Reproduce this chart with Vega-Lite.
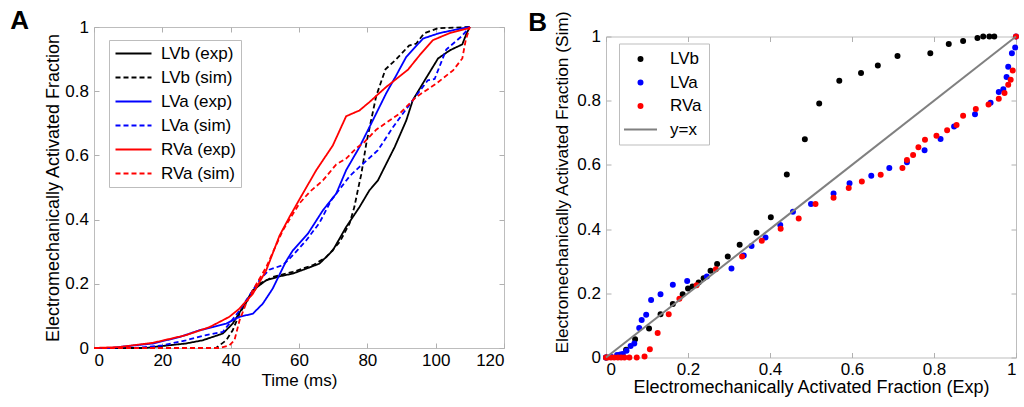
{
  "$schema": "https://vega.github.io/schema/vega-lite/v6.json",
  "background": "white",
  "padding": {"left": 9, "top": 7, "right": 0, "bottom": 0},
  "spacing": 22,
  "resolve": {"legend": {"color": "independent", "strokeDash": "independent", "fill": "independent", "stroke": "independent", "shape": "independent"}, "scale": {"color": "independent", "strokeDash": "independent", "fill": "independent", "stroke": "independent", "shape": "independent"}},
  "config": {
    "font": "Liberation Sans",
    "view": {"stroke": "#bdbdbd", "strokeWidth": 1},
    "axis": {"domain": false, "grid": false, "tickColor": "#b0b0b0", "tickSize": -5, "labelFontSize": 17, "labelColor": "black", "titleFontSize": 17, "titleFontWeight": "normal", "titleColor": "black", "labelFont": "Liberation Sans", "titleFont": "Liberation Sans"},
    "legend": {"labelFont": "Liberation Sans", "labelFontSize": 17, "labelColor": "black", "strokeColor": "#bdbdbd", "fillColor": "white", "padding": 7, "rowPadding": 6}
  },
  "hconcat": [
    {
      "width": 410,
      "height": 321,
      "title": {"text": "A", "anchor": "start", "frame": "bounds", "fontSize": 26, "fontWeight": "bold", "font": "Liberation Sans", "dx": -34, "offset": -15.5},
      "data": {"values": [
        {"t": 0, "f": 0, "s": "LVb (exp)"}, {"t": 15, "f": 0, "s": "LVb (exp)"}, {"t": 17.2, "f": 0.003, "s": "LVb (exp)"}, {"t": 26.9, "f": 0.014, "s": "LVb (exp)"}, {"t": 31.8, "f": 0.024, "s": "LVb (exp)"}, {"t": 37.7, "f": 0.045, "s": "LVb (exp)"}, {"t": 40.6, "f": 0.076, "s": "LVb (exp)"}, {"t": 43.6, "f": 0.128, "s": "LVb (exp)"}, {"t": 46.5, "f": 0.18, "s": "LVb (exp)"}, {"t": 50.4, "f": 0.211, "s": "LVb (exp)"}, {"t": 54.3, "f": 0.223, "s": "LVb (exp)"}, {"t": 58.2, "f": 0.232, "s": "LVb (exp)"}, {"t": 62.1, "f": 0.247, "s": "LVb (exp)"}, {"t": 66, "f": 0.263, "s": "LVb (exp)"}, {"t": 69.9, "f": 0.304, "s": "LVb (exp)"}, {"t": 73.8, "f": 0.377, "s": "LVb (exp)"}, {"t": 77.7, "f": 0.439, "s": "LVb (exp)"}, {"t": 80.6, "f": 0.491, "s": "LVb (exp)"}, {"t": 83.1, "f": 0.522, "s": "LVb (exp)"}, {"t": 84.6, "f": 0.554, "s": "LVb (exp)"}, {"t": 88, "f": 0.626, "s": "LVb (exp)"}, {"t": 91.4, "f": 0.709, "s": "LVb (exp)"}, {"t": 93.3, "f": 0.772, "s": "LVb (exp)"}, {"t": 96.8, "f": 0.834, "s": "LVb (exp)"}, {"t": 100.7, "f": 0.902, "s": "LVb (exp)"}, {"t": 104.1, "f": 0.927, "s": "LVb (exp)"}, {"t": 107.8, "f": 0.946, "s": "LVb (exp)"}, {"t": 109, "f": 0.979, "s": "LVb (exp)"}, {"t": 110, "f": 1, "s": "LVb (exp)"},
        {"t": 0, "f": 0, "s": "LVb (sim)"}, {"t": 35.7, "f": 0, "s": "LVb (sim)"}, {"t": 36.7, "f": 0.008, "s": "LVb (sim)"}, {"t": 38.7, "f": 0.024, "s": "LVb (sim)"}, {"t": 40.6, "f": 0.055, "s": "LVb (sim)"}, {"t": 42.6, "f": 0.107, "s": "LVb (sim)"}, {"t": 45.5, "f": 0.159, "s": "LVb (sim)"}, {"t": 48.4, "f": 0.2, "s": "LVb (sim)"}, {"t": 52.3, "f": 0.221, "s": "LVb (sim)"}, {"t": 58.2, "f": 0.237, "s": "LVb (sim)"}, {"t": 64.1, "f": 0.258, "s": "LVb (sim)"}, {"t": 68, "f": 0.283, "s": "LVb (sim)"}, {"t": 71.9, "f": 0.33, "s": "LVb (sim)"}, {"t": 74.8, "f": 0.388, "s": "LVb (sim)"}, {"t": 76.2, "f": 0.439, "s": "LVb (sim)"}, {"t": 77.2, "f": 0.491, "s": "LVb (sim)"}, {"t": 78.2, "f": 0.54, "s": "LVb (sim)"}, {"t": 79.7, "f": 0.637, "s": "LVb (sim)"}, {"t": 81.1, "f": 0.709, "s": "LVb (sim)"}, {"t": 82.6, "f": 0.785, "s": "LVb (sim)"}, {"t": 85.3, "f": 0.868, "s": "LVb (sim)"}, {"t": 88.5, "f": 0.9, "s": "LVb (sim)"}, {"t": 92.2, "f": 0.942, "s": "LVb (sim)"}, {"t": 94.3, "f": 0.948, "s": "LVb (sim)"}, {"t": 96.6, "f": 0.98, "s": "LVb (sim)"}, {"t": 100.6, "f": 0.996, "s": "LVb (sim)"}, {"t": 110, "f": 1, "s": "LVb (sim)"},
        {"t": 0, "f": 0, "s": "LVa (exp)"}, {"t": 5, "f": 0, "s": "LVa (exp)"}, {"t": 7.3, "f": 0.003, "s": "LVa (exp)"}, {"t": 17.2, "f": 0.014, "s": "LVa (exp)"}, {"t": 25, "f": 0.034, "s": "LVa (exp)"}, {"t": 30.8, "f": 0.055, "s": "LVa (exp)"}, {"t": 34.8, "f": 0.065, "s": "LVa (exp)"}, {"t": 38.7, "f": 0.076, "s": "LVa (exp)"}, {"t": 42.6, "f": 0.097, "s": "LVa (exp)"}, {"t": 46.5, "f": 0.107, "s": "LVa (exp)"}, {"t": 49.4, "f": 0.138, "s": "LVa (exp)"}, {"t": 52.3, "f": 0.185, "s": "LVa (exp)"}, {"t": 56.2, "f": 0.27, "s": "LVa (exp)"}, {"t": 58.2, "f": 0.304, "s": "LVa (exp)"}, {"t": 62.6, "f": 0.356, "s": "LVa (exp)"}, {"t": 67, "f": 0.429, "s": "LVa (exp)"}, {"t": 70.9, "f": 0.481, "s": "LVa (exp)"}, {"t": 73.8, "f": 0.554, "s": "LVa (exp)"}, {"t": 77.7, "f": 0.626, "s": "LVa (exp)"}, {"t": 81.6, "f": 0.709, "s": "LVa (exp)"}, {"t": 85.5, "f": 0.793, "s": "LVa (exp)"}, {"t": 88.5, "f": 0.85, "s": "LVa (exp)"}, {"t": 91.4, "f": 0.907, "s": "LVa (exp)"}, {"t": 96.3, "f": 0.964, "s": "LVa (exp)"}, {"t": 101.1, "f": 0.981, "s": "LVa (exp)"}, {"t": 106, "f": 0.992, "s": "LVa (exp)"}, {"t": 110, "f": 1, "s": "LVa (exp)"},
        {"t": 0, "f": 0, "s": "LVa (sim)"}, {"t": 12, "f": 0, "s": "LVa (sim)"}, {"t": 20, "f": 0.008, "s": "LVa (sim)"}, {"t": 26.9, "f": 0.024, "s": "LVa (sim)"}, {"t": 32.8, "f": 0.04, "s": "LVa (sim)"}, {"t": 37.7, "f": 0.05, "s": "LVa (sim)"}, {"t": 39.6, "f": 0.076, "s": "LVa (sim)"}, {"t": 42.6, "f": 0.117, "s": "LVa (sim)"}, {"t": 45.5, "f": 0.164, "s": "LVa (sim)"}, {"t": 48.4, "f": 0.211, "s": "LVa (sim)"}, {"t": 51.3, "f": 0.244, "s": "LVa (sim)"}, {"t": 55.3, "f": 0.258, "s": "LVa (sim)"}, {"t": 58.2, "f": 0.289, "s": "LVa (sim)"}, {"t": 62.1, "f": 0.335, "s": "LVa (sim)"}, {"t": 66, "f": 0.39, "s": "LVa (sim)"}, {"t": 69.4, "f": 0.46, "s": "LVa (sim)"}, {"t": 74.8, "f": 0.535, "s": "LVa (sim)"}, {"t": 77.7, "f": 0.564, "s": "LVa (sim)"}, {"t": 83.1, "f": 0.616, "s": "LVa (sim)"}, {"t": 87.5, "f": 0.688, "s": "LVa (sim)"}, {"t": 93.3, "f": 0.772, "s": "LVa (sim)"}, {"t": 97.7, "f": 0.834, "s": "LVa (sim)"}, {"t": 99.7, "f": 0.838, "s": "LVa (sim)"}, {"t": 103.1, "f": 0.93, "s": "LVa (sim)"}, {"t": 107.5, "f": 0.97, "s": "LVa (sim)"}, {"t": 110, "f": 1, "s": "LVa (sim)"},
        {"t": 0, "f": 0, "s": "RVa (exp)"}, {"t": 7.4, "f": 0.003, "s": "RVa (exp)"}, {"t": 17.2, "f": 0.016, "s": "RVa (exp)"}, {"t": 26.9, "f": 0.04, "s": "RVa (exp)"}, {"t": 33.8, "f": 0.065, "s": "RVa (exp)"}, {"t": 39.6, "f": 0.097, "s": "RVa (exp)"}, {"t": 42.6, "f": 0.123, "s": "RVa (exp)"}, {"t": 46.5, "f": 0.169, "s": "RVa (exp)"}, {"t": 50.4, "f": 0.242, "s": "RVa (exp)"}, {"t": 54.3, "f": 0.35, "s": "RVa (exp)"}, {"t": 57.2, "f": 0.408, "s": "RVa (exp)"}, {"t": 61.1, "f": 0.481, "s": "RVa (exp)"}, {"t": 65, "f": 0.553, "s": "RVa (exp)"}, {"t": 69.9, "f": 0.631, "s": "RVa (exp)"}, {"t": 73.8, "f": 0.722, "s": "RVa (exp)"}, {"t": 77.7, "f": 0.74, "s": "RVa (exp)"}, {"t": 80.6, "f": 0.766, "s": "RVa (exp)"}, {"t": 85.5, "f": 0.813, "s": "RVa (exp)"}, {"t": 91.9, "f": 0.867, "s": "RVa (exp)"}, {"t": 95.3, "f": 0.912, "s": "RVa (exp)"}, {"t": 99.2, "f": 0.959, "s": "RVa (exp)"}, {"t": 104.1, "f": 0.981, "s": "RVa (exp)"}, {"t": 109.5, "f": 0.996, "s": "RVa (exp)"}, {"t": 110, "f": 1, "s": "RVa (exp)"},
        {"t": 0, "f": 0, "s": "RVa (sim)"}, {"t": 36.6, "f": 0, "s": "RVa (sim)"}, {"t": 39.6, "f": 0.008, "s": "RVa (sim)"}, {"t": 41.1, "f": 0.024, "s": "RVa (sim)"}, {"t": 42.6, "f": 0.086, "s": "RVa (sim)"}, {"t": 44.5, "f": 0.138, "s": "RVa (sim)"}, {"t": 46.5, "f": 0.18, "s": "RVa (sim)"}, {"t": 50.4, "f": 0.252, "s": "RVa (sim)"}, {"t": 55.3, "f": 0.367, "s": "RVa (sim)"}, {"t": 60.1, "f": 0.45, "s": "RVa (sim)"}, {"t": 63.1, "f": 0.486, "s": "RVa (sim)"}, {"t": 67, "f": 0.522, "s": "RVa (sim)"}, {"t": 70.9, "f": 0.572, "s": "RVa (sim)"}, {"t": 73.8, "f": 0.59, "s": "RVa (sim)"}, {"t": 76.7, "f": 0.622, "s": "RVa (sim)"}, {"t": 79, "f": 0.64, "s": "RVa (sim)"}, {"t": 82.6, "f": 0.68, "s": "RVa (sim)"}, {"t": 89.4, "f": 0.73, "s": "RVa (sim)"}, {"t": 94.3, "f": 0.782, "s": "RVa (sim)"}, {"t": 100.2, "f": 0.824, "s": "RVa (sim)"}, {"t": 105.1, "f": 0.865, "s": "RVa (sim)"}, {"t": 107.8, "f": 0.902, "s": "RVa (sim)"}, {"t": 108.8, "f": 0.959, "s": "RVa (sim)"}, {"t": 110, "f": 1, "s": "RVa (sim)"}
      ]},
      "layer": [
        {
          "mark": {"type": "line", "strokeWidth": 1.8},
          "encoding": {
            "x": {"field": "t", "type": "quantitative", "scale": {"domain": [0, 120], "nice": false}, "axis": {"values": [0, 20, 40, 60, 80, 100, 120], "title": "Time (ms)", "labelPadding": 9, "titlePadding": 4}},
            "y": {"field": "f", "type": "quantitative", "scale": {"domain": [0, 1], "nice": false}, "axis": {"values": [0, 0.2, 0.4, 0.6, 0.8, 1], "format": "~g", "title": "Electromechanically Activated Fraction", "titleFontSize": 18, "labelPadding": 10.5, "titlePadding": 2.5}},
            "color": {"field": "s", "type": "nominal", "scale": {"domain": ["LVb (exp)", "LVb (sim)", "LVa (exp)", "LVa (sim)", "RVa (exp)", "RVa (sim)"], "range": ["#000000", "#000000", "#0000ff", "#0000ff", "#ff0000", "#ff0000"]}, "legend": {"title": null, "orient": "none", "legendX": 15, "legendY": 13, "padding": 5, "symbolType": "M-3.6,0H3.6", "symbolSize": 100, "symbolStrokeWidth": 2, "symbolOffset": 11, "labelOffset": 19}},
            "strokeDash": {"field": "s", "type": "nominal", "scale": {"domain": ["LVb (exp)", "LVb (sim)", "LVa (exp)", "LVa (sim)", "RVa (exp)", "RVa (sim)"], "range": [[1, 0], [5, 3], [1, 0], [5, 3], [1, 0], [5, 3]]}, "legend": {"title": null, "orient": "none", "legendX": 15, "legendY": 13, "padding": 5, "symbolType": "M-3.6,0H3.6", "symbolSize": 100, "symbolStrokeWidth": 2, "symbolOffset": 11, "labelOffset": 19}}
          }
        },
        {
          "mark": {"type": "line", "opacity": 0},
          "encoding": {
            "x": {"field": "t", "type": "quantitative", "axis": {"orient": "top", "values": [0, 20, 40, 60, 80, 100, 120], "labels": false, "title": null}},
            "y": {"field": "f", "type": "quantitative", "axis": {"orient": "right", "values": [0, 0.2, 0.4, 0.6, 0.8, 1], "labels": false, "title": null}}
          }
        }
      ],
      "resolve": {"axis": {"x": "independent", "y": "independent"}}
    },
    {
      "spacing": -22.5,
      "resolve": {"legend": {"fill": "independent", "stroke": "independent", "shape": "independent"}, "scale": {"fill": "independent", "stroke": "independent", "shape": "independent"}},
      "vconcat": [
        {
          "width": 1,
          "height": 1,
          "view": {"stroke": null},
          "data": {"values": [{"k": 0}]},
          "mark": {"type": "point", "opacity": 0},
          "encoding": {}
        },
        {
          "width": 410,
          "height": 321,
          "title": {"text": "B", "anchor": "start", "frame": "bounds", "fontSize": 26, "fontWeight": "bold", "font": "Liberation Sans", "dx": -25, "offset": -25},
          "layer": [
            {
              "data": {"values": [
                {"x": 0, "y": 0, "s": "LVb"}, {"x": 0.049, "y": 0.024, "s": "LVb"}, {"x": 0.071, "y": 0.057, "s": "LVb"}, {"x": 0.105, "y": 0.09, "s": "LVb"}, {"x": 0.133, "y": 0.135, "s": "LVb"}, {"x": 0.163, "y": 0.167, "s": "LVb"}, {"x": 0.187, "y": 0.197, "s": "LVb"}, {"x": 0.2, "y": 0.215, "s": "LVb"}, {"x": 0.211, "y": 0.221, "s": "LVb"}, {"x": 0.226, "y": 0.234, "s": "LVb"}, {"x": 0.238, "y": 0.247, "s": "LVb"}, {"x": 0.255, "y": 0.27, "s": "LVb"}, {"x": 0.271, "y": 0.291, "s": "LVb"}, {"x": 0.297, "y": 0.315, "s": "LVb"}, {"x": 0.326, "y": 0.351, "s": "LVb"}, {"x": 0.367, "y": 0.389, "s": "LVb"}, {"x": 0.402, "y": 0.437, "s": "LVb"}, {"x": 0.441, "y": 0.57, "s": "LVb"}, {"x": 0.485, "y": 0.68, "s": "LVb"}, {"x": 0.52, "y": 0.791, "s": "LVb"}, {"x": 0.569, "y": 0.862, "s": "LVb"}, {"x": 0.622, "y": 0.886, "s": "LVb"}, {"x": 0.663, "y": 0.91, "s": "LVb"}, {"x": 0.711, "y": 0.939, "s": "LVb"}, {"x": 0.791, "y": 0.948, "s": "LVb"}, {"x": 0.836, "y": 0.977, "s": "LVb"}, {"x": 0.871, "y": 0.986, "s": "LVb"}, {"x": 0.906, "y": 0.995, "s": "LVb"}, {"x": 0.92, "y": 1, "s": "LVb"}, {"x": 0.935, "y": 1, "s": "LVb"}, {"x": 0.947, "y": 1, "s": "LVb"},
                {"x": 0, "y": 0, "s": "LVa"}, {"x": 0.012, "y": 0.002, "s": "LVa"}, {"x": 0.027, "y": 0.008, "s": "LVa"}, {"x": 0.035, "y": 0.009, "s": "LVa"}, {"x": 0.041, "y": 0.011, "s": "LVa"}, {"x": 0.05, "y": 0.021, "s": "LVa"}, {"x": 0.06, "y": 0.036, "s": "LVa"}, {"x": 0.069, "y": 0.044, "s": "LVa"}, {"x": 0.081, "y": 0.092, "s": "LVa"}, {"x": 0.087, "y": 0.117, "s": "LVa"}, {"x": 0.098, "y": 0.133, "s": "LVa"}, {"x": 0.11, "y": 0.179, "s": "LVa"}, {"x": 0.133, "y": 0.197, "s": "LVa"}, {"x": 0.163, "y": 0.227, "s": "LVa"}, {"x": 0.198, "y": 0.238, "s": "LVa"}, {"x": 0.246, "y": 0.252, "s": "LVa"}, {"x": 0.306, "y": 0.277, "s": "LVa"}, {"x": 0.336, "y": 0.318, "s": "LVa"}, {"x": 0.355, "y": 0.347, "s": "LVa"}, {"x": 0.389, "y": 0.374, "s": "LVa"}, {"x": 0.425, "y": 0.413, "s": "LVa"}, {"x": 0.456, "y": 0.454, "s": "LVa"}, {"x": 0.5, "y": 0.478, "s": "LVa"}, {"x": 0.555, "y": 0.511, "s": "LVa"}, {"x": 0.594, "y": 0.543, "s": "LVa"}, {"x": 0.647, "y": 0.566, "s": "LVa"}, {"x": 0.691, "y": 0.59, "s": "LVa"}, {"x": 0.734, "y": 0.608, "s": "LVa"}, {"x": 0.777, "y": 0.646, "s": "LVa"}, {"x": 0.816, "y": 0.681, "s": "LVa"}, {"x": 0.849, "y": 0.72, "s": "LVa"}, {"x": 0.9, "y": 0.758, "s": "LVa"}, {"x": 0.938, "y": 0.794, "s": "LVa"}, {"x": 0.958, "y": 0.827, "s": "LVa"}, {"x": 0.969, "y": 0.836, "s": "LVa"}, {"x": 0.977, "y": 0.874, "s": "LVa"}, {"x": 0.981, "y": 0.906, "s": "LVa"}, {"x": 0.99, "y": 0.948, "s": "LVa"}, {"x": 0.998, "y": 0.966, "s": "LVa"}, {"x": 1, "y": 1, "s": "LVa"},
                {"x": 0, "y": 0, "s": "RVa"}, {"x": 0.004, "y": 0, "s": "RVa"}, {"x": 0.012, "y": 0, "s": "RVa"}, {"x": 0.02, "y": 0, "s": "RVa"}, {"x": 0.029, "y": 0, "s": "RVa"}, {"x": 0.037, "y": 0, "s": "RVa"}, {"x": 0.045, "y": 0, "s": "RVa"}, {"x": 0.057, "y": 0, "s": "RVa"}, {"x": 0.075, "y": 0, "s": "RVa"}, {"x": 0.094, "y": 0.003, "s": "RVa"}, {"x": 0.107, "y": 0.026, "s": "RVa"}, {"x": 0.126, "y": 0.076, "s": "RVa"}, {"x": 0.153, "y": 0.135, "s": "RVa"}, {"x": 0.179, "y": 0.183, "s": "RVa"}, {"x": 0.221, "y": 0.225, "s": "RVa"}, {"x": 0.268, "y": 0.275, "s": "RVa"}, {"x": 0.332, "y": 0.315, "s": "RVa"}, {"x": 0.38, "y": 0.364, "s": "RVa"}, {"x": 0.426, "y": 0.401, "s": "RVa"}, {"x": 0.47, "y": 0.433, "s": "RVa"}, {"x": 0.511, "y": 0.478, "s": "RVa"}, {"x": 0.555, "y": 0.498, "s": "RVa"}, {"x": 0.592, "y": 0.528, "s": "RVa"}, {"x": 0.624, "y": 0.548, "s": "RVa"}, {"x": 0.67, "y": 0.569, "s": "RVa"}, {"x": 0.723, "y": 0.59, "s": "RVa"}, {"x": 0.734, "y": 0.615, "s": "RVa"}, {"x": 0.749, "y": 0.631, "s": "RVa"}, {"x": 0.762, "y": 0.655, "s": "RVa"}, {"x": 0.778, "y": 0.678, "s": "RVa"}, {"x": 0.806, "y": 0.691, "s": "RVa"}, {"x": 0.832, "y": 0.708, "s": "RVa"}, {"x": 0.855, "y": 0.724, "s": "RVa"}, {"x": 0.871, "y": 0.753, "s": "RVa"}, {"x": 0.902, "y": 0.774, "s": "RVa"}, {"x": 0.933, "y": 0.788, "s": "RVa"}, {"x": 0.958, "y": 0.806, "s": "RVa"}, {"x": 0.972, "y": 0.824, "s": "RVa"}, {"x": 0.981, "y": 0.85, "s": "RVa"}, {"x": 0.987, "y": 0.865, "s": "RVa"}, {"x": 0.992, "y": 0.894, "s": "RVa"}, {"x": 1, "y": 1, "s": "RVa"}
              ]},
              "mark": {"type": "point", "filled": true, "size": 16, "strokeWidth": 2, "opacity": 1},
              "encoding": {
                "x": {"field": "x", "type": "quantitative", "scale": {"domain": [0, 1], "nice": false}, "axis": {"values": [0, 0.2, 0.4, 0.6, 0.8, 1], "format": "~g", "title": "Electromechanically Activated Fraction (Exp)", "labelPadding": 9, "titlePadding": 1, "titleFontSize": 18}},
                "y": {"field": "y", "type": "quantitative", "scale": {"domain": [0, 1], "nice": false}, "axis": {"values": [0, 0.2, 0.4, 0.6, 0.8, 1], "format": "~g", "title": "Electromechanically Activated Fraction (Sim)", "titleFontSize": 17.3, "labelPadding": 10.5, "titlePadding": 5.5, "titleY": 145.5}},
                "fill": {"field": "s", "type": "nominal", "scale": {"domain": ["LVb", "LVa", "RVa", "y=x"], "range": ["#000000", "#0000ff", "#ff0000", "#808080"]}, "legend": {"title": null, "orient": "none", "legendX": 13, "legendY": 7, "symbolSize": 16, "symbolStrokeWidth": 2, "symbolOffset": 6, "labelOffset": 21, "rowPadding": 5.5}},
                "stroke": {"field": "s", "type": "nominal", "scale": {"domain": ["LVb", "LVa", "RVa", "y=x"], "range": ["#000000", "#0000ff", "#ff0000", "#808080"]}, "legend": {"title": null, "orient": "none", "legendX": 13, "legendY": 7, "symbolSize": 16, "symbolStrokeWidth": 2, "symbolOffset": 6, "labelOffset": 21, "rowPadding": 5.5}},
                "shape": {"field": "s", "type": "nominal", "scale": {"domain": ["LVb", "LVa", "RVa", "y=x"], "range": ["circle", "circle", "circle", "M-8.25,0H8.25"]}, "legend": {"title": null, "orient": "none", "legendX": 13, "legendY": 7, "symbolSize": 16, "symbolStrokeWidth": 2, "symbolOffset": 6, "labelOffset": 21, "rowPadding": 5.5}}
              }
            },
            {
              "data": {"values": [{"x": 0, "y": 0}, {"x": 1, "y": 1}]},
              "mark": {"type": "line", "color": "#808080", "strokeWidth": 2},
              "encoding": {
                "x": {"field": "x", "type": "quantitative", "axis": null},
                "y": {"field": "y", "type": "quantitative", "axis": null}
              }
            },
            {
              "data": {"values": [{"x": 0, "y": 0}, {"x": 1, "y": 1}]},
              "mark": {"type": "line", "opacity": 0},
              "encoding": {
                "x": {"field": "x", "type": "quantitative", "axis": {"orient": "top", "values": [0, 0.2, 0.4, 0.6, 0.8, 1], "labels": false, "title": null}},
                "y": {"field": "y", "type": "quantitative", "axis": {"orient": "right", "values": [0, 0.2, 0.4, 0.6, 0.8, 1], "labels": false, "title": null}}
              }
            }
          ],
          "resolve": {"axis": {"x": "independent", "y": "independent"}}
        }
      ]
    }
  ]
}
